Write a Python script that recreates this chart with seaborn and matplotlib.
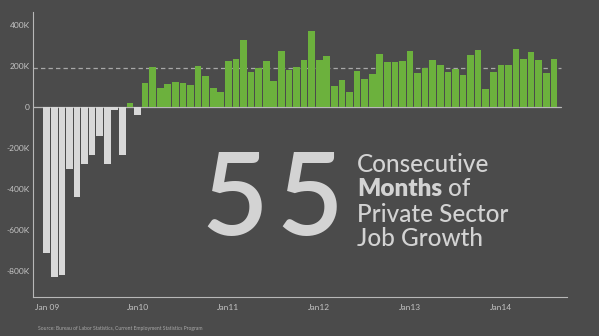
import matplotlib
matplotlib.use("Agg")
import matplotlib.pyplot as plt
import seaborn as sns
import pandas as pd

# ---- data (thousands of jobs, monthly change, Jan 2009 .. Aug 2014) ----
job_change = [-715, -830, -820, -305, -440, -280, -237, -145, -280, -18, -237, 17, -42,
              116, 194, 93, 111, 120, 117, 107, 200,
              148, 91, 70, 224, 233, 324, 168, 189, 223, 125,
              273, 178, 194, 227, 368, 229, 249, 99, 132, 73,
              174, 137, 161, 257, 217, 218,
              224, 270, 167, 190, 226, 203, 172, 182, 154, 254,
              276, 88, 171, 203, 203, 283, 231, 265, 226, 167, 231]
month_index = list(range(len(job_change)))
x_tick_pos = [0, 12, 24, 36, 48, 60]
x_tick_labels = ["Jan 09", "Jan10", "Jan11", "Jan12", "Jan13", "Jan14"]
y_ticks = [-800, -600, -400, -200, 0, 200, 400]
y_tick_labels = ["-800K", "-600K", "-400K", "-200K", "0", "200K", "400K"]
avg_line = 190
big_number = "55"

BG = "#4b4b4b"
GREEN = "#68c42a"
GRAY = "#d8d8d8"
LINE = "#b8b8b8"
TXT = "#c4c4c4"

df = pd.DataFrame({"m": month_index, "v": job_change,
                   "sign": ["pos" if v > 0 else "neg" for v in job_change]})

sns.set_theme(style="white")
plt.rcParams["font.family"] = ["Lato", "DejaVu Sans"]

fig = plt.figure(figsize=(5.99, 3.36), dpi=100, facecolor=BG)
ax = fig.add_axes([0.0556, 0.117, 0.8905, 0.847])
ax.set_facecolor(BG)

ax.axhline(avg_line, xmin=0, xmax=0.99, color="#a8a8a8", lw=0.9,
           dashes=(3.5, 2.5), zorder=0)
ax.axhline(0, xmin=0, xmax=0.99, color=LINE, lw=0.9, zorder=0)

sns.barplot(data=df, x="m", y="v", hue="sign",
            palette={"pos": GREEN, "neg": GRAY}, dodge=False,
            width=0.88, legend=False, ax=ax, linewidth=0, zorder=2)

ax.set_xlim(-1.77, 68.7)
ax.set_ylim(-927, 462)
ax.set_xticks(x_tick_pos)
ax.set_xticklabels(x_tick_labels)
ax.set_yticks(y_ticks)
ax.set_yticklabels(y_tick_labels)
ax.set_xlabel("")
ax.set_ylabel("")
ax.tick_params(axis="both", length=0, colors=TXT, labelsize=6)
ax.tick_params(axis="x", pad=5.5)
ax.tick_params(axis="y", pad=2.5)
for s in ["top", "right"]:
    ax.spines[s].set_visible(False)
for s in ["left", "bottom"]:
    ax.spines[s].set_color(LINE)
    ax.spines[s].set_linewidth(0.8)

# big annotation (each digit placed so the pair spans the same width as the original)
BIG = "#d3d3d3"
for ch, cx in zip(big_number, [235, 310]):
    fig.text(cx / 599, 1 - 235 / 336, ch, fontsize=83, color=BIG,
             ha="center", va="baseline", fontweight="semibold")
fs = 17.5
x0 = 357 / 599
fig.text(x0, 1 - 171.7 / 336, "Consecutive", fontsize=fs, color=BIG, va="baseline",
         fontweight="medium")
t_m = fig.text(x0, 1 - 196.5 / 336, "Months", fontsize=fs, color=BIG,
               va="baseline", fontweight="heavy")
fig.text(x0, 1 - 221.7 / 336, "Private Sector", fontsize=fs, color=BIG, va="baseline",
         fontweight="medium")
fig.text(x0, 1 - 246.5 / 336, "Job Growth", fontsize=fs, color=BIG, va="baseline",
         fontweight="medium")
fig.canvas.draw()
bb = t_m.get_window_extent(renderer=fig.canvas.get_renderer())
fig.text(bb.x1 / fig.bbox.width + 6 / 599, 1 - 196.5 / 336, "of", fontsize=fs,
         color=BIG, va="baseline", fontweight="medium")

fig.text(38 / 599, 1 - 330 / 336,
         "Source: Bureau of Labor Statistics, Current Employment Statistics Program",
         fontsize=3.6, color="#a8a8a8", ha="left", va="baseline")

fig.savefig("out.png", dpi=100, facecolor=BG)
